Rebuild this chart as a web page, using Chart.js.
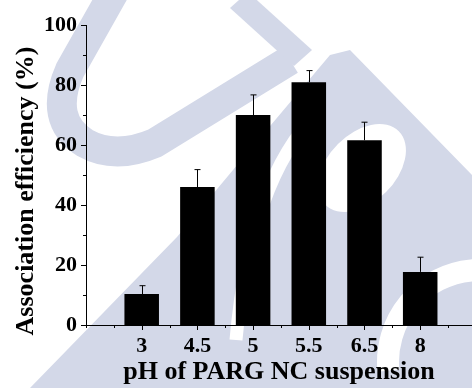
<!DOCTYPE html>
<html>
<head>
<meta charset="utf-8">
<script src="https://cdn.jsdelivr.net/npm/chart.js@4"></script>
<style>
  body { margin: 0; background: #fff; }
  #wrap { width: 472px; height: 388px; }
</style>
</head>
<body>
<div id="wrap"><canvas id="effChart" width="472" height="388"></canvas></div>
<script>
  // pH values of the suspension and measured association efficiency (%)
  const categories = ['3', '4.5', '5', '5.5', '6.5', '8'];
  const efficiency = [10.3, 46.0, 70.0, 80.9, 61.6, 17.7];
  const efficiencyErr = [2.8, 5.8, 6.7, 3.9, 6.0, 4.9];
  const yTicks = [0, 20, 40, 60, 80, 100];
  const yTitle = 'Association efficiency (%)';

  const FONT = "'Liberation Serif', 'Times New Roman', serif";
  const SHADE = '#d3d8e8';

  // light logo behind the plot
  function drawWatermark(ctx) {
      ctx.save();
      ctx.fillStyle = '#ffffff';
      ctx.fillRect(0, 0, 472, 388);
      ctx.fillStyle = SHADE;
      ctx.strokeStyle = SHADE;

      // U
      ctx.lineWidth = 30;
      ctx.beginPath();
      ctx.moveTo(118, -15);
      ctx.lineTo(70, 70);
      ctx.quadraticCurveTo(48, 120, 85, 143);
      ctx.quadraticCurveTo(115, 160, 155, 143);
      ctx.lineTo(290, 60);
      ctx.stroke();

      ctx.beginPath();
      ctx.moveTo(230, 8);
      ctx.lineTo(248, -8);
      ctx.lineTo(312, 50);
      ctx.lineTo(294, 66);
      ctx.closePath();
      ctx.fill();

      // S block
      ctx.beginPath();
      ctx.moveTo(30, 388);
      ctx.lineTo(177, 237);
      ctx.lineTo(233, 170);
      ctx.lineTo(330, 55);
      ctx.lineTo(350, 50);
      ctx.lineTo(472, 175);
      ctx.lineTo(472, 388);
      ctx.closePath();
      ctx.fill();

      ctx.fillStyle = '#ffffff';
      ctx.strokeStyle = '#ffffff';
      ctx.beginPath();
      ctx.ellipse(362, 168, 52, 34, -Math.PI / 4, 0, Math.PI * 2);
      ctx.fill();

      ctx.lineWidth = 13;
      ctx.beginPath();
      ctx.moveTo(318, 112);
      ctx.quadraticCurveTo(250, 180, 236, 340);
      ctx.stroke();

      ctx.lineWidth = 22;
      ctx.beginPath();
      ctx.arc(480, 362, 92, Math.PI * 0.97, Math.PI * 1.55);
      ctx.stroke();
      ctx.restore();
  }

  const backdrop = {
      id: 'backdrop',
      beforeDraw(chart) {
          drawWatermark(chart.ctx);
      }
  };

  // error bars (upper only), axis tick marks and the y-axis title
  const extras = {
      id: 'extras',
      afterDatasetsDraw(chart) {
          const ctx = chart.ctx;
          const x = chart.scales.x;
          const y = chart.scales.y;
          const area = chart.chartArea;
          ctx.save();
          ctx.strokeStyle = '#000';
          ctx.lineWidth = 1;

          efficiency.forEach((v, i) => {
              const px = Math.round(x.getPixelForValue(i + 1)) + 0.5;
              const top = y.getPixelForValue(v);
              const end = y.getPixelForValue(v + efficiencyErr[i]);
              ctx.beginPath();
              ctx.moveTo(px, top);
              ctx.lineTo(px, end);
              ctx.moveTo(px - 3, end);
              ctx.lineTo(px + 3, end);
              ctx.stroke();
          });

          ctx.beginPath();
          for (let v = 0; v <= 100; v += 10) {
              const py = Math.round(y.getPixelForValue(v)) + 0.5;
              const len = v % 20 === 0 ? 5 : 3;
              ctx.moveTo(area.left - len, py);
              ctx.lineTo(area.left, py);
          }
          for (let v = 0; v <= x.max; v += 0.5) {
              const px = Math.round(x.getPixelForValue(v)) + 0.5;
              const len = (v % 1 === 0 && v > 0) ? 5 : 3;
              ctx.moveTo(px, area.bottom);
              ctx.lineTo(px, area.bottom + len);
          }
          ctx.stroke();

          ctx.translate(33, (area.top + area.bottom) / 2 + 16);
          ctx.rotate(-Math.PI / 2);
          ctx.fillStyle = '#000';
          ctx.font = 'bold 26px ' + FONT;
          ctx.textAlign = 'center';
          ctx.textBaseline = 'alphabetic';
          ctx.fillText(yTitle, 0, 0);
          ctx.restore();
      }
  };

  const ctx = document.getElementById('effChart').getContext('2d');
  new Chart(ctx, {
      type: 'bar',
      data: {
          datasets: [{
              data: efficiency.map((v, i) => ({ x: i + 1, y: v })),
              backgroundColor: '#000',
              borderWidth: 0,
              barPercentage: 0.62,
              categoryPercentage: 1
          }]
      },
      options: {
          responsive: false,
          animation: false,
          events: [],
          layout: { padding: { top: 25, right: 0, bottom: 0, left: 0 } },
          plugins: {
              legend: { display: false },
              tooltip: { enabled: false }
          },
          scales: {
              x: {
                  type: 'linear',
                  offset: false,
                  min: 0,
                  max: 6.93,
                  afterBuildTicks: (scale) => {
                      scale.ticks = categories.map((c, i) => ({ value: i + 1 }));
                  },
                  afterFit: (scale) => { scale.height = 63; },
                  grid: { display: false, drawTicks: false },
                  border: { display: true, color: '#000', width: 1 },
                  ticks: {
                      color: '#000',
                      padding: 8,
                      maxRotation: 0,
                      font: { family: FONT, size: 22, weight: 'bold' },
                      callback: (v) => categories[v - 1] || ''
                  },
                  title: {
                      display: true,
                      text: 'pH of PARG NC suspension',
                      color: '#000',
                      padding: { top: 0, bottom: 0 },
                      font: { family: FONT, size: 26, weight: 'bold' }
                  }
              },
              y: {
                  min: 0,
                  max: 100,
                  afterBuildTicks: (scale) => {
                      scale.ticks = yTicks.map(v => ({ value: v }));
                  },
                  afterFit: (scale) => { scale.width = 86; },
                  grid: { display: false, drawTicks: false },
                  border: { display: true, color: '#000', width: 1 },
                  ticks: {
                      color: '#000',
                      padding: 9,
                      font: { family: FONT, size: 22, weight: 'bold' }
                  }
              }
          }
      },
      plugins: [backdrop, extras]
  });
</script>
</body>
</html>
